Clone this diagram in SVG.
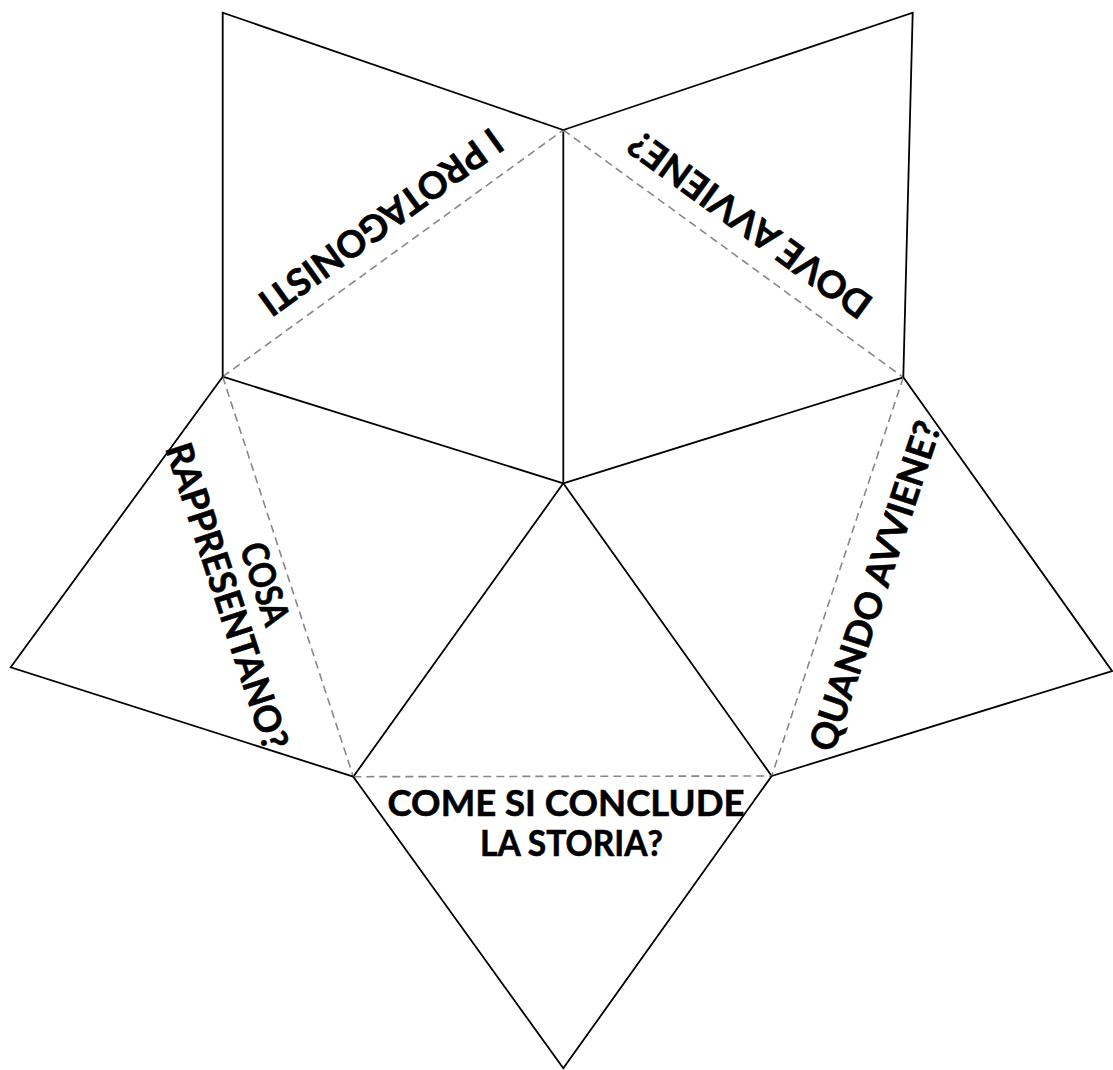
<svg xmlns="http://www.w3.org/2000/svg" width="1113" height="1070" viewBox="0 0 1113 1070">
<style>
.cut{fill:none;stroke:#000;stroke-width:1.8;stroke-linejoin:miter}
.fold{fill:none;stroke:#888;stroke-width:1.6;stroke-dasharray:8 5}
.lbl{font-family:Lato,"Open Sans","Liberation Sans",sans-serif;font-weight:700;font-size:37px;fill:#000;stroke:#000;stroke-width:0.6;text-anchor:middle}
</style>
<rect width="1113" height="1070" fill="#fff"/>
<g id="connectors">
<path class="cut" d="M563.3,483.3L563.3,130M563.3,483.3L222.7,376.7M563.3,483.3L903.3,377.3M563.3,483.3L353.3,776.7M563.3,483.3L771.7,776"/>
<path class="fold" d="M222.7,376.7L563.3,130M563.3,130L903.3,377.3M222.7,376.7L353.3,776.7M903.3,377.3L771.7,776M353.3,776.7L771.7,776"/>
</g>
<g id="flap-protagonisti">
<path class="cut" d="M222.7,376.7L222.7,12.7L563.3,130"/>
<text class="lbl" transform="translate(381,222) rotate(144.1)" x="0" y="13" textLength="290" lengthAdjust="spacingAndGlyphs">I PROTAGONISTI</text>
</g>
<g id="flap-dove">
<path class="cut" d="M563.3,130L912.7,12.7L903.3,377.3"/>
<text class="lbl" transform="translate(750,224.5) rotate(216)" x="0" y="13" textLength="290" lengthAdjust="spacingAndGlyphs">DOVE AVVIENE?</text>
</g>
<g id="flap-cosa">
<path class="cut" d="M222.7,376.7L10.7,667.3L353.3,776.7"/>
<text class="lbl" transform="translate(246,590) rotate(71.9)"><tspan x="0" y="-7" textLength="85" lengthAdjust="spacingAndGlyphs">COSA</tspan><tspan x="0" y="33" textLength="320" lengthAdjust="spacingAndGlyphs">RAPPRESENTANO?</tspan></text>
</g>
<g id="flap-quando">
<path class="cut" d="M903.3,377.3L1112,671L771.7,776"/>
<text class="lbl" transform="translate(875,586) rotate(-71.7)" x="0" y="13" textLength="345" lengthAdjust="spacingAndGlyphs">QUANDO AVVIENE?</text>
</g>
<g id="flap-conclude">
<path class="cut" d="M353.3,776.7L563.3,1068.3L771.7,776"/>
<text class="lbl"><tspan x="566" y="816" textLength="357" lengthAdjust="spacingAndGlyphs">COME SI CONCLUDE</tspan><tspan x="571.5" y="856" textLength="183" lengthAdjust="spacingAndGlyphs">LA STORIA?</tspan></text>
</g>
</svg>
